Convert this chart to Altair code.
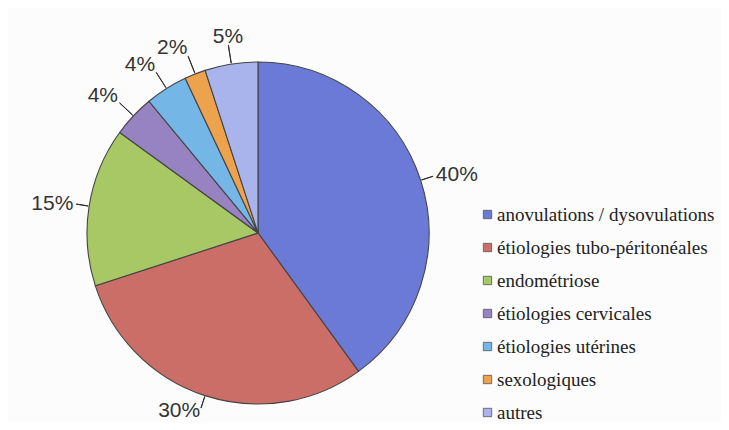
import altair as alt
import pandas as pd

categories = [
    "anovulations / dysovulations",
    "étiologies tubo-péritonéales",
    "endométriose",
    "étiologies cervicales",
    "étiologies utérines",
    "sexologiques",
    "autres",
]
values = [40, 30, 15, 4, 4, 2, 5]
labels = ["40%", "30%", "15%", "4%", "4%", "2%", "5%"]
colors = ["#6A7AD6", "#CC6E68", "#A8C865", "#9782C2", "#74B6E6", "#EDA24E", "#AAB4EC"]

df = pd.DataFrame({
    "cat": categories,
    "value": values,
    "label": labels,
    "order": list(range(len(categories))),
})

CX, CY, R = 250, 225, 171
theta_scale = alt.Scale(domain=[0, 100])

base = alt.Chart(df).transform_window(
    cum="sum(value)", sort=[alt.SortField("order")], frame=[None, 0]
).transform_calculate(
    mid="datum.cum - datum.value / 2",
    mid2="datum.cum - datum.value / 2 + 0.02",
)

pie = base.mark_arc(stroke="#444444", strokeWidth=1.1).encode(
    theta=alt.Theta("value:Q", stack=True, scale=theta_scale),
    color=alt.Color(
        "cat:N",
        scale=alt.Scale(domain=categories, range=colors),
        legend=alt.Legend(
            orient="none", legendX=470, legendY=197, title=None,
            symbolType="square", symbolSize=70, symbolStrokeWidth=0.8,
            symbolStrokeColor="#555555",
            labelFont="Liberation Serif", labelFontSize=19, labelColor="#222222",
            rowPadding=13, labelOffset=0, padding=0, labelLimit=400,
        ),
    ),
    order=alt.Order("order:Q"),
    radius=alt.value(R),
    x=alt.value(CX), y=alt.value(CY),
    tooltip=["cat:N", "value:Q"],
)

leaders = base.mark_arc(
    color="#333333", stroke="#333333", strokeWidth=1,
    outerRadius=alt.ExprRef(f"datum.mid > 85 ? {R + 19} : {R + 13}"),
    innerRadius=R + 1,
).encode(
    theta=alt.Theta("mid:Q", stack=None, scale=theta_scale),
    theta2="mid2:Q",
    x=alt.value(CX), y=alt.value(CY),
)

labels_layer = base.mark_text(
    font="Liberation Sans", fontSize=21, color="#333333",
    radius=alt.ExprRef(f"datum.mid > 85 ? {R + 21} : {R + 16}"),
    align=alt.ExprRef("datum.mid <= 50 ? 'left' : (datum.mid > 95 ? 'center' : 'right')"),
    baseline=alt.ExprRef("datum.mid > 85 ? 'alphabetic' : 'middle'"),
).encode(
    theta=alt.Theta("mid:Q", stack=None, scale=theta_scale),
    text="label:N",
    x=alt.value(CX), y=alt.value(CY),
)

chart = alt.layer(pie, leaders, labels_layer).properties(
    width=713, height=414, padding=0, autosize="none", background="#fcfcfc",
).configure_view(stroke=None)

chart.save("out.html", embed_options={"renderer": "svg", "actions": False})
